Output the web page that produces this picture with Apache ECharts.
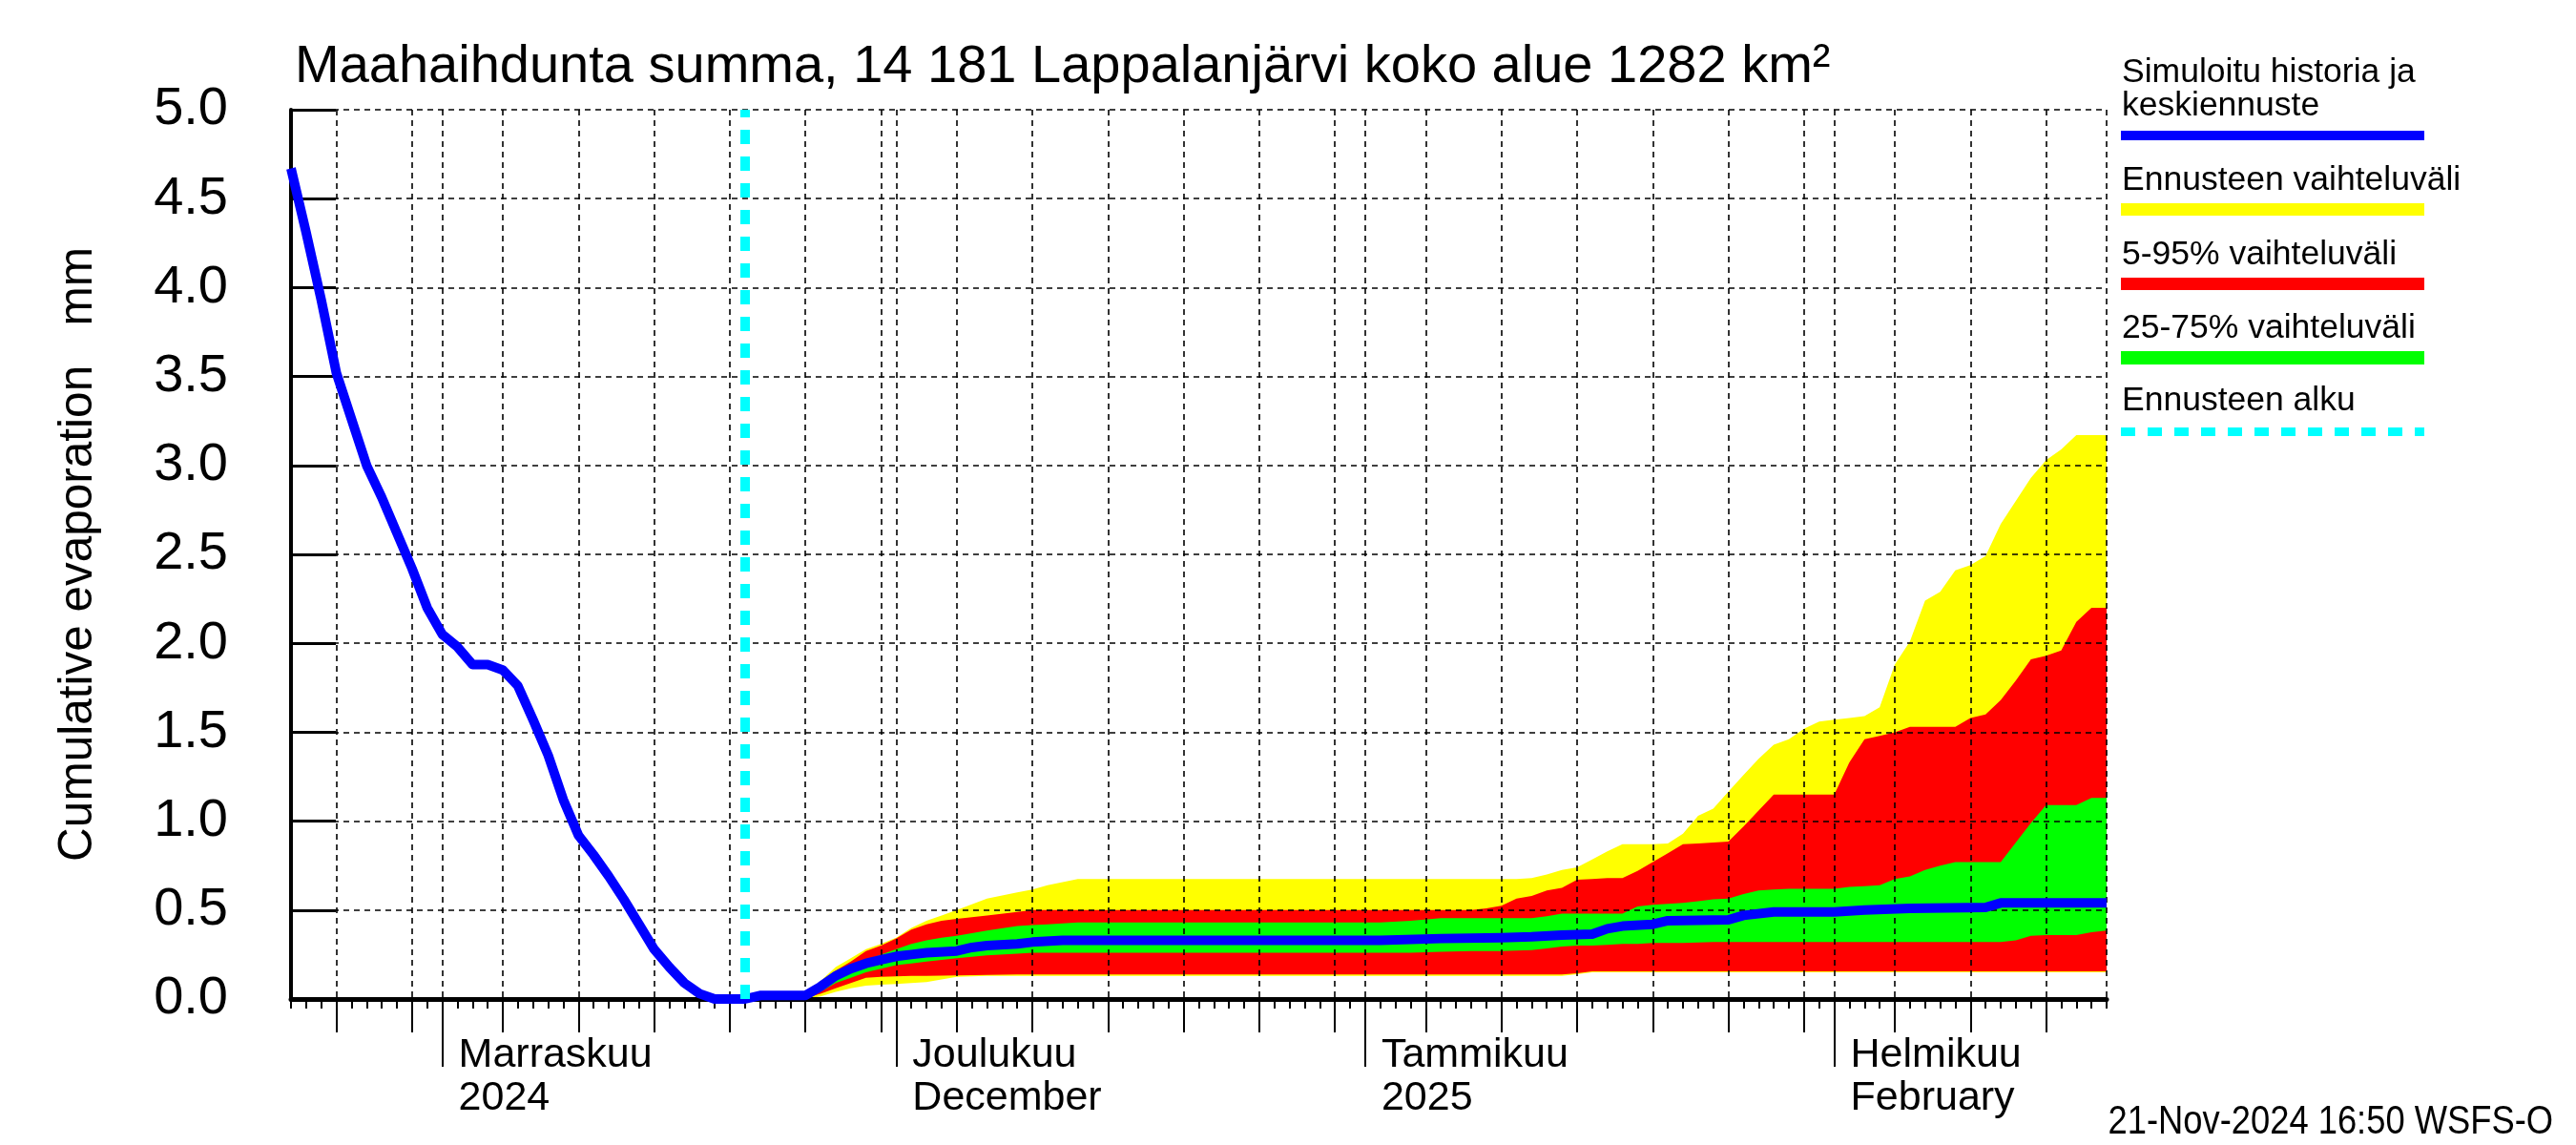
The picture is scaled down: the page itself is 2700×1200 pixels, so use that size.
<!DOCTYPE html>
<html>
<head>
<meta charset="utf-8">
<script src="https://cdn.jsdelivr.net/npm/echarts@6.0.0/dist/echarts.min.js"></script>
<style>html,body{margin:0;padding:0;background:#ffffff}#chart{width:2700px;height:1200px}</style>
</head>
<body>
<div id="chart"></div>
<script>
// x values are days relative to 1 Nov 2024 (day 0)
const xMin = -10, xMax = 110;
const forecastStartDay = 20;
const monthStartDays = [0, 30, 61, 92];
const monthLabels = ['Marraskuu\n2024', 'Joulukuu\nDecember', 'Tammikuu\n2025', 'Helmikuu\nFebruary'];
const gridDays = [-7, -2, 0, 4, 9, 14, 19, 24, 29, 30, 34, 39, 44, 49, 54, 59, 61, 65, 70, 75, 80, 85, 90, 92, 96, 101, 106, 110];
const tickDays = [-7, -2, 4, 9, 14, 19, 24, 29, 34, 39, 44, 49, 54, 59, 65, 70, 75, 80, 85, 90, 96, 101, 106];

const titleText = 'Maahaihdunta summa, 14 181 Lappalanjärvi koko alue 1282 km²';
const yName = 'Cumulative evaporation   mm';
const stampText = '21-Nov-2024 16:50 WSFS-O';
const legendNames = ['Simuloitu historia ja', 'keskiennuste', 'Ennusteen vaihteluväli', '5-95% vaihteluväli', '25-75% vaihteluväli', 'Ennusteen alku'];

const histDays = [-10,-9,-8,-7,-6,-5,-4,-3,-2,-1,0,1,2,3,4,5,6,7,8,9,10,11,12,13,14,15,16,17,18,19,20];
const histVals = [4.67,4.31,3.93,3.52,3.26,3.0,2.82,2.62,2.42,2.2,2.05,1.98,1.88,1.88,1.85,1.76,1.57,1.37,1.12,0.92,0.81,0.69,0.56,0.42,0.28,0.18,0.09,0.03,0.0,0.0,0.0];

const medDays = [20,21,24,25,26,27,28,29,30,31,32,34,35,36,38,39,41,62,66,70,72,74,76,77,78,80,81,85,86,88,92,94,97,102,103,110];
const medVals = [0.0,0.02,0.02,0.07,0.13,0.17,0.2,0.22,0.24,0.25,0.26,0.27,0.29,0.3,0.31,0.32,0.33,0.33,0.34,0.345,0.35,0.36,0.365,0.395,0.41,0.42,0.44,0.445,0.47,0.49,0.49,0.5,0.51,0.515,0.54,0.54];

const bandDays = [20,24,25,26,27,28,29,30,31,32, 33,34,36,38,39,40,42,44,62,64, 66,68,69,70,71,72,73,74,75,76, 77,78,79,80,81,82,83,84,85,86, 87,88,89,90,91,92,93,94,95,96, 97,98,99,100,101,102,103,104,105,106, 107,108,109,110];
const maxVals = [0,0.01,0.1,0.18,0.23,0.28,0.31,0.345,0.4,0.44, 0.47,0.5,0.565,0.6,0.615,0.64,0.675,0.675,0.675,0.675, 0.675,0.675,0.675,0.675,0.675,0.68,0.7,0.725,0.74,0.785, 0.83,0.87,0.87,0.87,0.875,0.93,1.03,1.07,1.165,1.26, 1.35,1.43,1.46,1.52,1.56,1.57,1.58,1.59,1.64,1.88, 2.01,2.24,2.29,2.41,2.44,2.49,2.67,2.8,2.93,3.03, 3.09,3.17,3.17,3.17];
const p95Vals = [0,0.01,0.08,0.16,0.21,0.27,0.3,0.34,0.39,0.42, 0.44,0.45,0.47,0.49,0.5,0.5,0.5,0.5,0.5,0.5, 0.5,0.5,0.51,0.525,0.565,0.58,0.61,0.625,0.67,0.675, 0.68,0.68,0.72,0.77,0.82,0.87,0.875,0.88,0.885,0.97, 1.06,1.15,1.15,1.15,1.15,1.15,1.33,1.46,1.48,1.5, 1.53,1.53,1.53,1.53,1.58,1.6,1.68,1.79,1.91,1.93, 1.96,2.12,2.2,2.2];
const p75Vals = [0,0.01,0.08,0.15,0.19,0.22,0.25,0.28,0.31,0.33, 0.345,0.355,0.385,0.41,0.416,0.42,0.43,0.43,0.43,0.44, 0.455,0.455,0.455,0.455,0.455,0.455,0.465,0.48,0.48,0.48, 0.48,0.48,0.52,0.53,0.535,0.54,0.55,0.56,0.565,0.59, 0.61,0.615,0.62,0.62,0.62,0.62,0.63,0.635,0.64,0.675, 0.69,0.725,0.75,0.77,0.77,0.77,0.77,0.88,0.99,1.09, 1.09,1.09,1.13,1.13];
const p25Vals = [0,0.005,0.04,0.09,0.12,0.15,0.17,0.19,0.2,0.21, 0.22,0.23,0.245,0.255,0.26,0.26,0.26,0.26,0.26,0.26, 0.265,0.27,0.27,0.27,0.272,0.275,0.285,0.295,0.3,0.3, 0.305,0.31,0.31,0.315,0.315,0.315,0.318,0.32,0.32,0.32, 0.32,0.32,0.32,0.32,0.32,0.32,0.32,0.32,0.32,0.32, 0.32,0.32,0.32,0.32,0.32,0.32,0.32,0.33,0.355,0.36, 0.36,0.36,0.375,0.385];
const p5Vals = [0,0.005,0.03,0.06,0.09,0.12,0.125,0.128,0.13,0.13, 0.132,0.133,0.136,0.138,0.138,0.138,0.138,0.138,0.138,0.138, 0.138,0.138,0.138,0.138,0.138,0.138,0.138,0.138,0.145,0.155, 0.155,0.155,0.155,0.155,0.155,0.155,0.155,0.155,0.155,0.155, 0.155,0.155,0.155,0.155,0.155,0.155,0.155,0.155,0.155,0.155, 0.155,0.155,0.155,0.155,0.155,0.155,0.155,0.155,0.155,0.155, 0.155,0.155,0.155,0.155];
const minVals = [0,0,0.015,0.04,0.06,0.075,0.08,0.085,0.09,0.095, 0.11,0.125,0.13,0.13,0.13,0.13,0.13,0.13,0.13,0.13, 0.13,0.13,0.13,0.13,0.13,0.13,0.13,0.13,0.14,0.15, 0.15,0.15,0.15,0.15,0.15,0.15,0.15,0.15,0.15,0.15, 0.15,0.15,0.15,0.15,0.15,0.15,0.15,0.15,0.15,0.15, 0.15,0.15,0.15,0.15,0.15,0.15,0.15,0.15,0.15,0.15, 0.15,0.15,0.15,0.15];

// ---------- build ----------
const dayCats = [];
for (let d = xMin; d <= xMax; d++) dayCats.push(String(d));

const FONT = '"Liberation Sans", Arial, Helvetica, sans-serif';

function pairs(xs, ys) { return xs.map((x, i) => [x, ys[i]]); }

// layered filled areas (each filled down to the axis), drawn in order
function areaSeries(name, vals, color) {
  return { name: name, type: 'line', xAxisIndex: 0, data: pairs(bandDays, vals),
    symbol: 'none', lineStyle: { width: 0, opacity: 0 },
    areaStyle: { color: color, opacity: 1, origin: 'start' }, z: 1, silent: true };
}

const blueData = pairs(histDays, histVals).concat(pairs(medDays.slice(1), medVals.slice(1)));

const catAxisBase = {
  type: 'category', data: dayCats, boundaryGap: false, position: 'bottom', z: 2,
  axisLine: { show: false }, axisLabel: { show: false }, splitLine: { show: false },
  axisTick: { show: false }
};

function legendText(text, y) {
  return { type: 'text', x: 2224, y: y, style: { text: text, fontSize: 35.5, fontFamily: FONT, fill: '#000', align: 'left', verticalAlign: 'middle' } };
}

const option = {
  animation: false,
  backgroundColor: '#ffffff',
  title: {
    text: titleText, left: 304, top: 38,
    textStyle: { fontSize: 56, fontWeight: 'normal', color: '#000', fontFamily: FONT }
  },
  grid: { left: 305, right: 492, top: 115, bottom: 153, containLabel: false, outerBoundsMode: 'none' },
  xAxis: [
    { type: 'value', min: xMin, max: xMax, interval: 1, position: 'bottom', z: 2,
      axisLine: { show: true, onZero: false, lineStyle: { color: '#000', width: 5 } },
      axisTick: { show: true, inside: false, length: 10, lineStyle: { color: '#000', width: 2 } },
      axisLabel: { show: false }, splitLine: { show: false } },
    Object.assign({}, catAxisBase, {
      axisTick: { show: true, inside: false, length: 35, lineStyle: { color: '#000', width: 2 },
        interval: (i) => tickDays.includes(xMin + i) },
      splitLine: { show: true, lineStyle: { color: '#000', width: 1.6, type: [6, 5] },
        interval: (i) => gridDays.includes(xMin + i) }
    }),
    Object.assign({}, catAxisBase, {
      axisTick: { show: true, inside: false, length: 71, lineStyle: { color: '#000', width: 2 },
        interval: (i) => monthStartDays.includes(xMin + i) },
      axisLabel: { show: true, interval: (i) => monthStartDays.includes(xMin + i),
        formatter: (v) => { const k = monthStartDays.indexOf(Number(v)); return k >= 0 ? monthLabels[k] : ''; },
        align: 'left', verticalAlign: 'top', padding: [0, 0, 0, 17], margin: 37,
        fontSize: 43, lineHeight: 45, color: '#000', fontFamily: FONT }
    })
  ],
  yAxis: {
    type: 'value', min: 0, max: 5, interval: 0.5, position: 'left', z: 2,
    name: yName, nameLocation: 'middle', nameGap: 198, nameRotate: 90,
    nameTextStyle: { fontSize: 49.5, color: '#000', fontFamily: FONT },
    axisLine: { show: true, onZero: false, lineStyle: { color: '#000', width: 4 } },
    axisTick: { show: true, inside: true, length: 47, lineStyle: { color: '#000', width: 3 } },
    axisLabel: { formatter: (v) => v.toFixed(1), fontSize: 56, margin: 66, color: '#000', fontFamily: FONT },
    splitLine: { show: true, lineStyle: { color: '#000', width: 1.6, type: [6, 5] } }
  },
  series: [
    areaSeries('Ennusteen vaihteluväli', maxVals, '#ffff00'),
    areaSeries('5-95% vaihteluväli', p95Vals, '#ff0000'),
    areaSeries('25-75% vaihteluväli', p75Vals, '#00ff00'),
    areaSeries('25% raja', p25Vals, '#ff0000'),
    areaSeries('5% raja', p5Vals, '#ffff00'),
    areaSeries('min raja', minVals, '#ffffff'),
    {
      name: 'Simuloitu historia ja keskiennuste', type: 'line', xAxisIndex: 0, data: blueData,
      symbol: 'none', z: 4, silent: true,
      lineStyle: { color: '#0000ff', width: 10, join: 'round', cap: 'butt' },
      markLine: {
        silent: true, symbol: ['none', 'none'], label: { show: false },
        lineStyle: { color: '#00ffff', width: 10, type: [15, 13] },
        data: [{ xAxis: forecastStartDay }]
      }
    }
  ],
  graphic: [
    legendText(legendNames[0], 76),
    legendText(legendNames[1], 111),
    { type: 'rect', shape: { x: 2223, y: 137, width: 318, height: 10 }, style: { fill: '#0000ff' } },
    legendText(legendNames[2], 189),
    { type: 'rect', shape: { x: 2223, y: 213, width: 318, height: 13 }, style: { fill: '#ffff00' } },
    legendText(legendNames[3], 267),
    { type: 'rect', shape: { x: 2223, y: 291, width: 318, height: 13 }, style: { fill: '#ff0000' } },
    legendText(legendNames[4], 344),
    { type: 'rect', shape: { x: 2223, y: 368, width: 318, height: 14 }, style: { fill: '#00ff00' } },
    legendText(legendNames[5], 420),
    { type: 'line', shape: { x1: 2223, y1: 452.5, x2: 2541, y2: 452.5 }, style: { stroke: '#00ffff', lineWidth: 9, lineDash: [15, 13] } },
    { type: 'text', x: 2676, y: 1176, scaleX: 0.865, style: { text: stampText, fontSize: 42, fontFamily: FONT, fill: '#000', align: 'right', verticalAlign: 'middle' } }
  ]
};

const chart = echarts.init(document.getElementById('chart'), null, { renderer: 'canvas', width: 2700, height: 1200 });
chart.setOption(option);
</script>
</body>
</html>
